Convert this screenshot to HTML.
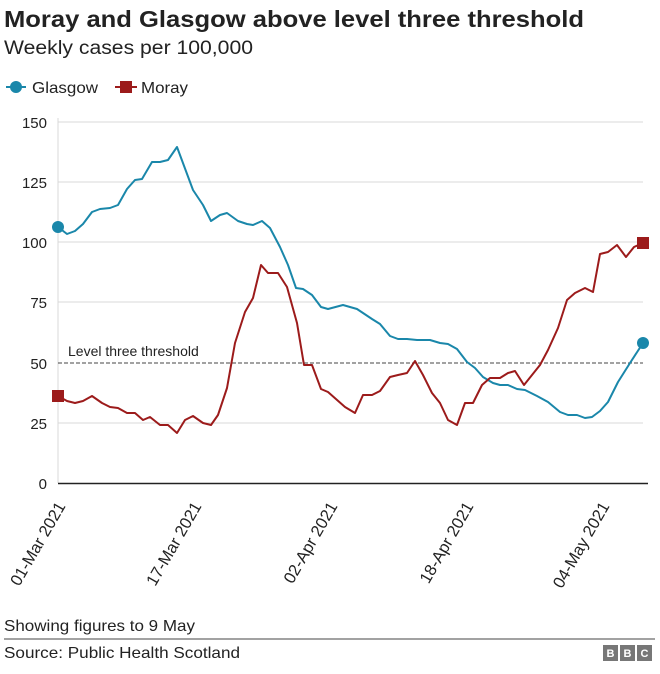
<!DOCTYPE html>
<html><head><meta charset="utf-8"><style>
body{margin:0;background:#fff;width:660px;height:669px;overflow:hidden;font-family:"Liberation Sans",sans-serif}
</style></head><body>
<svg width="660" height="669" xmlns="http://www.w3.org/2000/svg" font-family="Liberation Sans, sans-serif">
<text x="4" y="27" font-size="23" font-weight="bold" fill="#222" textLength="580" lengthAdjust="spacingAndGlyphs">Moray and Glasgow above level three threshold</text>
<text x="4" y="54" font-size="19" fill="#222" textLength="249" lengthAdjust="spacingAndGlyphs">Weekly cases per 100,000</text>
<line x1="6" y1="87" x2="26" y2="87" stroke="#1a87aa" stroke-width="2"/><circle cx="16" cy="87" r="6" fill="#1a87aa"/>
<text x="32" y="93" font-size="16" fill="#222" textLength="66" lengthAdjust="spacingAndGlyphs">Glasgow</text>
<line x1="115" y1="87" x2="137" y2="87" stroke="#9c1b1b" stroke-width="2"/><rect x="120" y="81" width="12" height="12" fill="#9c1b1b"/>
<text x="141" y="93" font-size="16" fill="#222" textLength="47" lengthAdjust="spacingAndGlyphs">Moray</text>
<g stroke="#d9d9d9" stroke-width="1">
<line x1="58" y1="122" x2="643" y2="122"/><line x1="58" y1="182" x2="643" y2="182"/><line x1="58" y1="242" x2="643" y2="242"/><line x1="58" y1="302" x2="643" y2="302"/><line x1="58" y1="423" x2="643" y2="423"/>
<line x1="58" y1="118" x2="58" y2="483"/>
</g>
<line x1="58" y1="363" x2="643" y2="363" stroke="#444" stroke-width="1" stroke-dasharray="4,2"/>
<text x="68" y="356" font-size="14" fill="#222">Level three threshold</text>
<line x1="58" y1="483.5" x2="648" y2="483.5" stroke="#222" stroke-width="1.5"/>
<g font-size="15" fill="#222" text-anchor="end">
<text x="47" y="128">150</text><text x="47" y="188">125</text><text x="47" y="248">100</text><text x="47" y="308">75</text><text x="47" y="369">50</text><text x="47" y="429">25</text><text x="47" y="489">0</text>
</g>
<g font-size="16.5" fill="#222" text-anchor="end">
<text transform="translate(66,506) rotate(-60)">01-Mar 2021</text>
<text transform="translate(202,506) rotate(-60)">17-Mar 2021</text>
<text transform="translate(338,506) rotate(-60)">02-Apr 2021</text>
<text transform="translate(474,506) rotate(-60)">18-Apr 2021</text>
<text transform="translate(610,506) rotate(-60)">04-May 2021</text>
</g>
<polyline fill="none" stroke="#1a87aa" stroke-width="2" stroke-linejoin="round" points="58,227 67,234 75,231 83,224 92,212 100,209 110,208 118,205 127,189 135,180 142,179 152,162 160,162 168,160 177,147 193,190 203,205 211,221 220,215 227,213 238,221 247,224 253,225 262,221 270,228 280,247 288,265 296,288 303,289 312,295 321,307 328,309 343,305 357,309 372,319 380,324 390,336 398,339 407,339 417,340 430,340 440,343 448,344 457,349 467,362 475,368 483,377 493,383 500,385 508,385 517,389 525,390 537,396 548,402 560,412 568,415 577,415 585,418 592,417 600,411 608,402 618,382 630,363 643,343"/>
<polyline fill="none" stroke="#9c1b1b" stroke-width="2" stroke-linejoin="round" points="58,396 67,401 75,403 83,401 92,396 102,403 110,407 118,408 127,413 135,413 143,420 150,417 160,425 168,425 177,433 185,420 193,416 203,423 211,425 218,415 227,388 235,343 245,312 253,298 261,265 268,273 278,273 287,287 297,323 304,365 312,365 321,389 328,392 345,407 355,413 363,395 372,395 380,391 390,377 398,375 407,373 415,361 423,375 432,393 440,403 448,420 457,425 465,403 473,403 482,385 490,378 500,378 508,373 515,371 524,385 532,375 540,365 548,350 558,328 567,300 575,293 585,288 593,292 600,254 608,252 617,245 626,257 634,247 643,243"/>
<circle cx="58" cy="227" r="6" fill="#1a87aa"/><circle cx="643" cy="343" r="6" fill="#1a87aa"/>
<rect x="52" y="390" width="12" height="12" fill="#9c1b1b"/><rect x="637" y="237" width="12" height="12" fill="#9c1b1b"/>
<text x="4" y="631" font-size="16" fill="#222" textLength="191" lengthAdjust="spacingAndGlyphs">Showing figures to 9 May</text>
<line x1="4" y1="639" x2="655" y2="639" stroke="#444" stroke-width="1"/>
<text x="4" y="658" font-size="16" fill="#222" textLength="236" lengthAdjust="spacingAndGlyphs">Source: Public Health Scotland</text>
<g font-size="11" font-weight="bold" fill="#fff" text-anchor="middle">
<rect x="603" y="645" width="15" height="16" fill="#777"/><text x="610.5" y="657">B</text>
<rect x="620" y="645" width="15" height="16" fill="#777"/><text x="627.5" y="657">B</text>
<rect x="637" y="645" width="15" height="16" fill="#777"/><text x="644.5" y="657">C</text>
</g>
</svg>
</body></html>
